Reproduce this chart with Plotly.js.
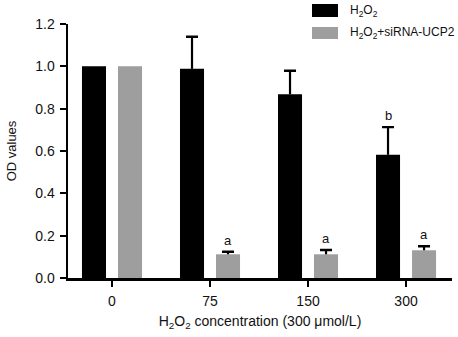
<!DOCTYPE html>
<html><head><meta charset="utf-8">
<script src="https://cdn.plot.ly/plotly-3.0.1.min.js"></script>
<style>body{margin:0;background:#fff}#c{width:458px;height:337px}</style>
</head><body><div id="c"></div>
<script>
const categories = ["0", "75", "150", "300"];
const h2o2Values = [1.0, 0.988, 0.868, 0.582];
const h2o2Errors = [0, 0.152, 0.111, 0.131];
const siValues = [1.0, 0.112, 0.112, 0.131];
const siErrors = [0, 0.012, 0.02, 0.019];
const h2o2Letters = ["", "", "", "b"];
const siLetters = ["", "a", "a", "a"];
const seriesNames = ["H<sub>2</sub>O<sub>2</sub>", "H<sub>2</sub>O<sub>2</sub>+siRNA-UCP2"];
const colors = ["#000000", "#9e9e9e"];

const fontFam = "Liberation Sans, Arial, sans-serif";
const zeros = categories.map(() => 0);
const topOf = (v, e) => v.map((y, i) => e[i] > 0 ? y + e[i] : null);

function seriesTraces(vals, errs, name, color, grp) {
  return [
    {type: "bar", x: categories, y: vals, name: name, offsetgroup: grp,
     marker: {color: color},
     error_y: {type: "data", symmetric: false, array: errs, arrayminus: zeros,
               color: "#000000", thickness: 2.2, width: 0}},
    // invisible companion giving only the top cap of the error bar
    {type: "bar", x: categories, y: topOf(vals, errs), offsetgroup: grp, showlegend: false,
     marker: {color: "rgba(0,0,0,0)"},
     error_y: {type: "data", symmetric: true, array: zeros, color: "#000000", thickness: 2.4, width: 6}}
  ];
}
const traces = [].concat(
  seriesTraces(h2o2Values, h2o2Errors, seriesNames[0], colors[0], "A"),
  seriesTraces(siValues, siErrors, seriesNames[1], colors[1], "B")
);

const annotations = [];
const shift = 18;
categories.forEach((c, i) => {
  if (h2o2Letters[i]) annotations.push({xref: "x", yref: "y", x: i, y: h2o2Values[i] + h2o2Errors[i], xshift: -shift, yshift: 2,
    text: h2o2Letters[i], showarrow: false, yanchor: "bottom", font: {family: fontFam, size: 13, color: "#111"}});
  if (siLetters[i]) annotations.push({xref: "x", yref: "y", x: i, y: siValues[i] + siErrors[i], xshift: shift, yshift: 2,
    text: siLetters[i], showarrow: false, yanchor: "bottom", font: {family: fontFam, size: 13, color: "#111"}});
});
// legend: swatches and labels
const lx0 = (312 - 68) / 384, lx1 = (338 - 68) / 384, ltx = (348 - 68) / 384;
const py = px => 1 + (24 - px) / 254;
seriesNames.forEach((n, k) => {
  annotations.push({xref: "paper", yref: "paper", x: ltx, y: py(k === 0 ? 11 : 33), xanchor: "left", yanchor: "middle",
    text: n, showarrow: false, font: {family: fontFam, size: 12, color: "#111"}});
});
const shapes = [
  {type: "rect", xref: "paper", yref: "paper", x0: lx0, x1: lx1, y0: py(17), y1: py(4), fillcolor: colors[0], line: {width: 0}},
  {type: "rect", xref: "paper", yref: "paper", x0: lx0, x1: lx1, y0: py(39), y1: py(27), fillcolor: colors[1], line: {width: 0}}
];

const layout = {
  width: 458, height: 337,
  margin: {l: 68, r: 6, t: 24, b: 59, pad: 0},
  paper_bgcolor: "#fff", plot_bgcolor: "#fff",
  showlegend: false,
  barmode: "group", bargap: 0.265, bargroupgap: 0.333,
  font: {family: fontFam, size: 14, color: "#111"},
  xaxis: {type: "category", range: [-0.449, 3.469], showline: true, linecolor: "#000", linewidth: 2.5,
          ticks: "outside", ticklen: 6, tickwidth: 2, tickcolor: "#000", showgrid: false, zeroline: false,
          tickfont: {size: 14}, ticklabelstandoff: 3,
          title: {text: "H<sub>2</sub>O<sub>2</sub> concentration (300 μmol/L)", font: {size: 14}, standoff: 8}},
  yaxis: {range: [0, 1.2], tickvals: [0, 0.2, 0.4, 0.6, 0.8, 1.0, 1.2], ticktext: ["0.0","0.2","0.4","0.6","0.8","1.0","1.2"],
          showline: true, linecolor: "#000", linewidth: 2.5,
          ticks: "outside", ticklen: 6, tickwidth: 2, tickcolor: "#000", showgrid: false, zeroline: false,
          tickfont: {size: 14}, ticklabelstandoff: 2,
          title: {text: "OD values", font: {size: 13, family: "Liberation Sans Narrow, Arial Narrow, Liberation Sans, sans-serif"}, standoff: 16}},
  annotations: annotations, shapes: shapes
};
Plotly.newPlot("c", traces, layout, {displayModeBar: false, staticPlot: true});
</script></body></html>
